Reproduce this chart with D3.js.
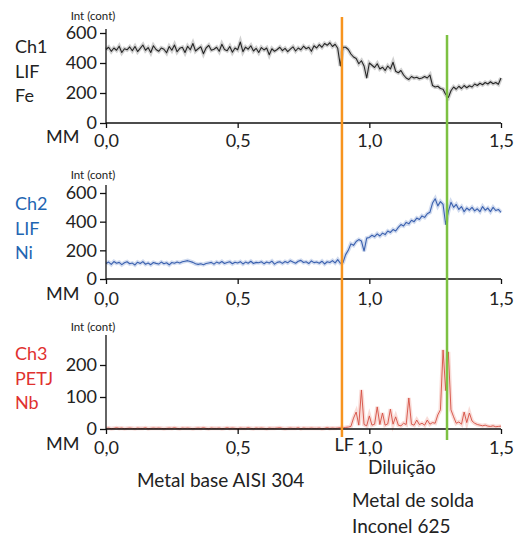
<!DOCTYPE html>
<style>
body { margin: 0; background: #fff; }
text { font-family: Lato, "Open Sans", sans-serif; fill: #222; }
.axis path, .axis line { stroke: #111; stroke-width: 1.3; }
</style>
<svg width="528" height="537"></svg>
<script src="https://d3js.org/d3.v7.min.js"></script>
<script>

// distance (mm), sampled every 0.01 mm from 0,0 to 1,5
var step = 0.01;

var fe = [
  490, 505, 478, 500, 485, 512, 470, 495, 488, 507,
  482, 510, 476, 498, 520, 485, 503, 470, 515, 490,
  478, 500, 492, 468, 510, 485, 520, 475, 498, 505,
  470, 512, 488, 530, 480, 495, 508, 462, 500, 518,
  485, 492, 505, 478, 525, 490, 482, 510, 472, 500,
  488, 540, 476, 506, 492, 515, 480, 498, 470, 503,
  487, 500, 455, 495, 478, 490, 505, 482, 498, 476,
  493, 508, 480, 500, 488, 512, 495, 505, 478, 515,
  500, 522, 505, 530, 518, 535, 510, 525, 498, 380,
  505, 505, 490, 460, 440, 430, 395, 415, 380, 300,
  400, 385, 370, 395, 360, 372, 350, 380, 360, 405,
  345, 335, 350, 320, 300, 290, 310, 300, 305, 295,
  300, 310, 300, 320, 250, 240, 245, 230, 225, 190,
  170, 215, 240, 225, 245, 230, 250, 235, 248, 240,
  260, 250, 265, 255, 270, 260, 275, 262, 270, 258,
  300
];

var ni = [
  108, 118, 102, 122, 110, 116, 100, 113, 120, 106,
  111, 98, 117, 108, 121, 103, 112, 100, 115, 109,
  104, 118, 107, 113, 99, 115, 110, 118, 112, 120,
  124, 128, 122, 116, 106, 102, 106, 100, 108, 112,
  116, 104, 118, 110, 122, 108, 115, 120, 106, 117,
  112, 121, 105, 118, 110, 124, 108, 116, 113, 120,
  107, 118, 112, 125, 104, 116, 120, 109, 122, 113,
  128, 118, 110, 124, 130, 115, 120, 108, 126, 114,
  118, 110, 124, 105, 120, 115, 128, 112, 135, 110,
  115, 170, 200, 245, 235, 262, 275, 265, 195, 285,
  290, 305, 295, 315, 300, 320, 310, 335, 325, 345,
  335, 360, 380, 370, 395, 385, 410, 400, 425, 415,
  440, 430, 455, 465, 530, 560, 510, 540, 520, 380,
  470, 535, 500, 520, 485, 505, 470, 495, 480, 500,
  475, 490, 470, 505, 480, 495, 470, 500, 478, 485,
  465
];

var nb = [
  2, 3, 1, 2, 4, 2, 3, 1, 2, 3,
  2, 1, 3, 2, 2, 4, 1, 2, 3, 2,
  3, 2, 1, 2, 3, 2, 4, 2, 1, 3,
  2, 3, 2, 1, 2, 3, 2, 4, 2, 1,
  3, 2, 2, 3, 1, 2, 4, 2, 3, 2,
  1, 3, 2, 2, 4, 2, 1, 3, 2, 3,
  2, 1, 3, 2, 2, 3, 4, 2, 1, 2,
  3, 2, 2, 4, 1, 3, 2, 2, 3, 2,
  2, 3, 1, 2, 4, 2, 3, 2, 3, 4,
  3, 5, 6, 8, 34, 53, 12, 122, 14, 10,
  41, 12, 15, 69, 14, 50, 12, 16, 62, 15,
  38, 12, 10, 18, 14, 97, 15, 12, 28, 14,
  18, 12, 28, 15, 20, 18, 44, 60, 247, 120,
  241, 60, 38, 18, 22, 15, 53, 20, 50, 25,
  18, 14, 12, 10, 12, 9, 8, 10, 7, 8,
  9
];

var xTicks = [0, 0.5, 1.0, 1.5];
var xTickLabels = ["0,0", "0,5", "1,0", "1,5"];

var channels = [
  { name: ["Ch1", "LIF", "Fe"], values: fe, yTicks: [0, 200, 400, 600], yMax: 600 },
  { name: ["Ch2", "LIF", "Ni"], values: ni, yTicks: [0, 200, 400, 600], yMax: 600 },
  { name: ["Ch3", "PETJ", "Nb"], values: nb, yTicks: [0, 100, 200], yMax: 200 }
];

// interface lines (mm)
var fusionLine = 0.896;
var dilutionLine = 1.295;

var svg = d3.select("svg");

var x = d3.scaleLinear().domain([0, 1.5]).range([106, 501]);

// layout of each panel
var panels = [
  { base: 123, topTick: 33, axisTop: 29, label: 53, mm: 143, intY: 20, pad: 6,
    color: "#222", stroke: "#262626", halo: "rgba(0,0,0,0.18)", width: 1.1 },
  { base: 279, topTick: 193, axisTop: 185, label: 210, mm: 300, intY: 179, pad: 8,
    color: "#1f66b2", stroke: "#3a60ae", halo: "rgba(70,110,190,0.25)", width: 1.1 },
  { base: 429, topTick: 365, axisTop: 335, label: 360, mm: 450, intY: 331, pad: 7,
    color: "#e0312f", stroke: "#d54e42", halo: "rgba(235,140,125,0.3)", width: 0.9 }
];

channels.forEach(function(ch, i) {
  var p = panels[i];
  var y = d3.scaleLinear().domain([0, ch.yMax]).range([p.base, p.topTick]);
  var g = svg.append("g");

  var line = d3.line()
      .x(function(d, j) { return x(j * step); })
      .y(function(d) { return y(d); });

  g.append("path")
      .datum(ch.values)
      .attr("fill", "none")
      .attr("stroke", p.halo)
      .attr("stroke-width", 4)
      .attr("d", line);

  g.append("path")
      .datum(ch.values)
      .attr("fill", "none")
      .attr("stroke", p.stroke)
      .attr("stroke-width", p.width)
      .attr("stroke-linejoin", "round")
      .attr("d", line);

  var ya = g.append("g")
      .attr("class", "axis")
      .attr("transform", "translate(" + x(0) + ",0)")
      .call(d3.axisLeft(y).tickValues(ch.yTicks).tickSize(6).tickPadding(3));
  ya.select(".domain").remove();
  ya.selectAll("text").style("font-size", "18px").style("font-family", "Lato, sans-serif").attr("fill", "#222");

  g.append("line")
      .attr("x1", x(0)).attr("x2", x(0))
      .attr("y1", p.axisTop).attr("y2", p.base)
      .attr("stroke", "#111").attr("stroke-width", 1.3);

  var xa = g.append("g")
      .attr("class", "axis")
      .attr("transform", "translate(0," + p.base + ")")
      .call(d3.axisBottom(x).tickValues(xTicks).tickSize(5).tickPadding(p.pad)
        .tickFormat(function(d, j) { return xTickLabels[j]; }));
  xa.select(".domain").attr("d", "M" + x(0) + ",0H" + x(1.5));
  xa.selectAll("text").style("font-size", "18px").style("font-family", "Lato, sans-serif").attr("fill", "#222");

  g.append("text")
      .attr("x", 93).attr("y", p.intY)
      .attr("text-anchor", "middle")
      .style("font-size", "11.5px")
      .text("Int (cont)");

  g.selectAll(".chname")
    .data(ch.name)
    .enter().append("text")
      .attr("x", 15)
      .attr("y", function(d, k) { return p.label + k * 24.5; })
      .style("font-size", "18px")
      .style("fill", p.color)
      .text(function(d) { return d; });

  g.append("text")
      .attr("x", 46).attr("y", p.mm)
      .style("font-size", "18px")
      .text("MM");
});

// fusion line and dilution limit
svg.append("line")
    .attr("x1", x(fusionLine)).attr("x2", x(fusionLine))
    .attr("y1", 17).attr("y2", 437)
    .attr("stroke", "#f7941e").attr("stroke-width", 2.5);

svg.append("line")
    .attr("x1", x(dilutionLine)).attr("x2", x(dilutionLine))
    .attr("y1", 35).attr("y2", 440)
    .attr("stroke", "#7dc142").attr("stroke-width", 2.5);

svg.append("text")
    .attr("x", 354).attr("y", 451)
    .attr("text-anchor", "end")
    .style("font-size", "18px")
    .text("LF");

var notes = [
  { t: "Diluição", x: 368, y: 474 },
  { t: "Metal base AISI 304", x: 137, y: 487 },
  { t: "Metal de solda", x: 352, y: 507 },
  { t: "Inconel 625", x: 352, y: 533 }
];

svg.selectAll(".note")
  .data(notes)
  .enter().append("text")
    .attr("x", function(d) { return d.x; })
    .attr("y", function(d) { return d.y; })
    .style("font-size", "19px")
    .text(function(d) { return d.t; });

</script>
